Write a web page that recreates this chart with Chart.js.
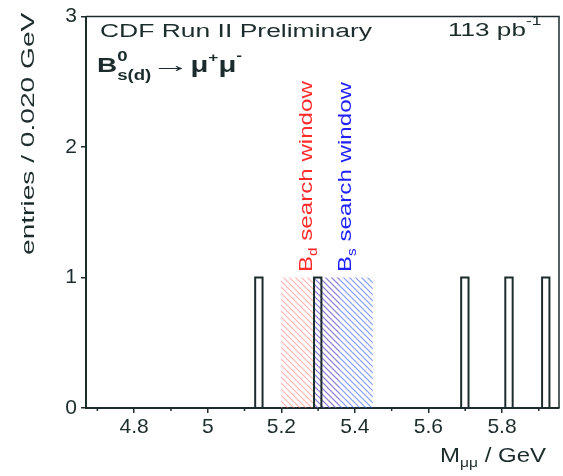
<!DOCTYPE html>
<html>
<head>
<meta charset="utf-8">
<script src="https://cdn.jsdelivr.net/npm/chart.js@4"></script>
<style>
  body { margin: 0; background: #fff; }
  #box { width: 563px; height: 476px; }
</style>
</head>
<body>
<div id="box"><canvas id="myChart"></canvas></div>
<script>
// histogram: low edges of filled bins (GeV), bin width and counts
const binLow = [5.129, 5.289, 5.689, 5.809, 5.909];
const binCounts = [1, 1, 1, 1, 1];
const binWidth = 0.02;

// search windows (GeV) and their height
const bdWindow = [5.199, 5.359];
const bsWindow = [5.289, 5.449];
const windowHeight = 1;

// axes
const xRange = [4.669, 5.955];
const xTicks = [4.8, 5.0, 5.2, 5.4, 5.6, 5.8];
const xTickLabels = ['4.8', '5', '5.2', '5.4', '5.6', '5.8'];
const xMinorTicks = [4.7, 4.9, 5.1, 5.3, 5.5, 5.7, 5.9];
const yTicks = [0, 1, 2, 3];
const yTickLabels = ['0', '1', '2', '3'];

const dark = '#1c2c2c';
const font = '"Liberation Sans", Arial, sans-serif';

function box(lo, hi, h) {
  return [{x: lo, y: 0}, {x: lo, y: h}, {x: hi, y: h}, {x: hi, y: 0}];
}

function hatch(color) {
  var c = document.createElement('canvas');
  c.width = 6; c.height = 6;
  var g = c.getContext('2d');
  g.strokeStyle = color;
  g.lineWidth = 1.2;
  g.beginPath();
  g.moveTo(-1, -1); g.lineTo(7, 7);
  g.moveTo(-1, 5); g.lineTo(1, 7);
  g.moveTo(5, -1); g.lineTo(7, 1);
  g.stroke();
  return g.createPattern(c, 'repeat');
}

// draw a list of text pieces, stretched along the text by sx
function rich(ctx, parts, x, y, sx, angle) {
  ctx.save();
  ctx.translate(x, y);
  if (angle) ctx.rotate(angle);
  ctx.scale(sx, 1);
  ctx.textBaseline = 'alphabetic';
  ctx.textAlign = 'left';
  var px = 0;
  parts.forEach(function (p) {
    var k = p.sx || 1;
    ctx.font = (p.bold ? 'bold ' : '') + p.size + 'px ' + font;
    ctx.fillStyle = p.color || dark;
    ctx.save();
    ctx.translate(px, p.dy || 0);
    ctx.scale(k, 1);
    ctx.fillText(p.t, 0, 0);
    ctx.restore();
    var w = ctx.measureText(p.t).width * k;
    if (!p.stack) px += w + (p.gap || 0);
  });
  ctx.restore();
}

const decor = {
  id: 'decor',
  afterDraw(chart) {
    var ctx = chart.ctx, a = chart.chartArea;
    var xs = chart.scales.x;
    ctx.save();
    // frame top / right
    ctx.strokeStyle = dark;
    ctx.lineWidth = 1.5;
    ctx.beginPath();
    ctx.moveTo(a.left, a.top); ctx.lineTo(a.right, a.top); ctx.lineTo(a.right, a.bottom);
    ctx.stroke();
    // minor ticks
    ctx.beginPath();
    xMinorTicks.forEach(function (v) {
      var px = xs.getPixelForValue(v);
      ctx.moveTo(px, a.bottom); ctx.lineTo(px, a.bottom + 3);
    });
    ctx.stroke();
    ctx.restore();

    rich(ctx, [{t: 'CDF Run II Preliminary', size: 18}], 100, 37, 1.47);
    rich(ctx, [{t: '113 pb', size: 18}, {t: '-1', size: 12, dy: -11}], 448, 36, 1.45);
    rich(ctx, [
      {t: 'B', size: 21, bold: true},
      {t: '0', size: 14, bold: true, dy: -11, stack: true},
      {t: 's(d)', size: 14, bold: true, dy: 8},
      {t: '\u2192', size: 21, bold: true, sx: 1.4},
      {t: '\u03bc', size: 22, bold: true},
      {t: '+', size: 13, bold: true, dy: -10},
      {t: '\u03bc', size: 22, bold: true},
      {t: '-', size: 13, bold: true, dy: -12}
    ], 97, 72, 1.33);

    // axis titles
    rich(ctx, [{t: 'entries / 0.020 GeV', size: 19}], 34, 255, 1.48, -Math.PI / 2);
    rich(ctx, [{t: 'M', size: 20}, {t: '\u03bc\u03bc', size: 13, dy: 5}, {t: ' / GeV', size: 20}], 440, 462, 1.2);

    // window labels
    var red = '#ff2a2a', blue = '#2020ff';
    rich(ctx, [{t: 'B', size: 19, color: red}, {t: 'd', size: 12, dy: 5, color: red},
      {t: ' search window', size: 19, color: red}], 312, 272, 1.27, -Math.PI / 2);
    rich(ctx, [{t: 'B', size: 19, color: blue}, {t: 's', size: 12, dy: 5, color: blue},
      {t: ' search window', size: 19, color: blue}], 351, 272, 1.27, -Math.PI / 2);
  }
};

const datasets = [];
binLow.forEach(function (lo, i) {
  datasets.push({
    data: box(lo, lo + binWidth, binCounts[i]),
    showLine: true, fill: false, pointRadius: 0,
    borderColor: dark, borderWidth: 2, order: 0
  });
});
datasets.push({
  data: box(bsWindow[0], bsWindow[1], windowHeight),
  showLine: true, fill: 'origin', pointRadius: 0, borderWidth: 0,
  backgroundColor: hatch('rgba(50,90,255,0.6)'), order: 1
});
datasets.push({
  data: box(bdWindow[0], bdWindow[1], windowHeight),
  showLine: true, fill: 'origin', pointRadius: 0, borderWidth: 0,
  backgroundColor: hatch('rgba(255,110,110,0.5)'), order: 2
});

const config = {
  type: 'scatter',
  data: { datasets },
  options: {
    responsive: true,
    maintainAspectRatio: false,
    animation: false,
    layout: { padding: { top: 10, right: 4, left: 0, bottom: 0 } },
    plugins: { legend: { display: false }, tooltip: { enabled: false } },
    scales: {
      x: {
        type: 'linear', min: xRange[0], max: xRange[1],
        afterBuildTicks: function (s) { s.ticks = xTicks.map(function (v) { return {value: v}; }); },
        afterFit: function (s) { s.height = 68; },
        ticks: {
          autoSkip: false, maxRotation: 0, padding: 2, color: dark,
          font: { size: 21, family: font },
          callback: function (v, i) { return xTickLabels[i]; }
        },
        grid: { drawOnChartArea: false, tickLength: 5, color: dark, lineWidth: 1.5 },
        border: { color: dark, width: 2 }
      },
      y: {
        min: 0, max: 3,
        afterBuildTicks: function (s) { s.ticks = yTicks.map(function (v) { return {value: v}; }); },
        afterFit: function (s) { s.width = 86; },
        ticks: {
          autoSkip: false, padding: 4, color: dark,
          font: { size: 21, family: font },
          callback: function (v, i) { return yTickLabels[i]; }
        },
        grid: { drawOnChartArea: false, tickLength: 5, color: dark, lineWidth: 1.5 },
        border: { color: dark, width: 2 }
      }
    }
  },
  plugins: [decor]
};

const myChart = new Chart(document.getElementById('myChart'), config);
</script>
</body>
</html>
